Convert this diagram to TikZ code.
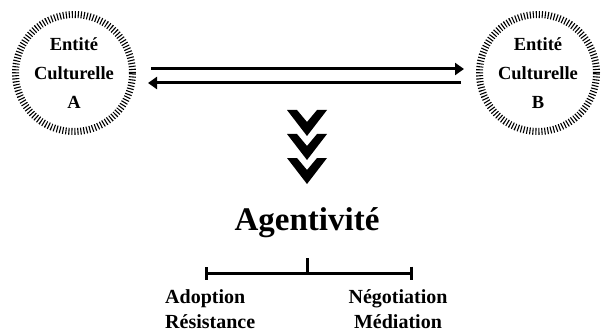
\documentclass[tikz,border=0pt]{standalone}
\usepackage{fontspec}
\setmainfont{Liberation Serif}
\usepackage{xcolor}
\usetikzlibrary{arrows.meta,positioning}

\begin{document}
\begin{tikzpicture}[x=1pt, y=-1pt,
    entity/.style={circle, draw, line width=7pt, dash pattern=on 1.1pt off 1.9pt, minimum size=117pt, inner sep=0pt, align=center, font=\bfseries\fontsize{18.5}{29}\selectfont},
    arr/.style={-{Triangle[length=9pt, width=12pt]}, line width=3pt},
    bracket/.style={{Bar[width=13pt]}-{Bar[width=13pt]}, line width=3pt},
    lbl/.style={font=\bfseries\fontsize{20}{25}\selectfont, inner sep=0pt}
]
    \useasboundingbox (0,0) rectangle (602,334);
    \node[entity] (entA) at (74,73) {Entité\\Culturelle\\A};
    \node[entity] (entB) at (538,73) {Entité\\Culturelle\\B};
    \draw[arr] ([xshift=15pt, yshift=4pt]entA.east) -- ([xshift=-12pt, yshift=4pt]entB.west);
    \draw[arr] ([xshift=-15pt, yshift=-10pt]entB.west) -- ([xshift=12pt, yshift=-10pt]entA.east);
    % chevrons
    \foreach \dy in {0,24,48}
        \fill (287,110+\dy) -- (297,110+\dy) -- (307,122+\dy) -- (317,110+\dy) -- (327,110+\dy) -- (307,136+\dy) -- cycle;
    \node[font=\bfseries\fontsize{33}{36}\selectfont, anchor=base] (agent) at (307,230) {Agentivité};
    \coordinate (barL) at (205,273);
    \coordinate (barR) at (413,273);
    \coordinate (barM) at (307,273);
    \draw[bracket] (barL) -- (barR);
    \draw[line width=3pt] ([yshift=-1pt]barM) -- ++(0,-16);
    \node[lbl, align=left, anchor=north west] (left) at ([xshift=-40pt, yshift=-16pt]barL) {Adoption\\Résistance};
    \node[lbl, align=center, anchor=north] (right) at ([xshift=-15pt, yshift=-16pt]barR) {Négotiation\\Médiation};
\end{tikzpicture}
\end{document}
